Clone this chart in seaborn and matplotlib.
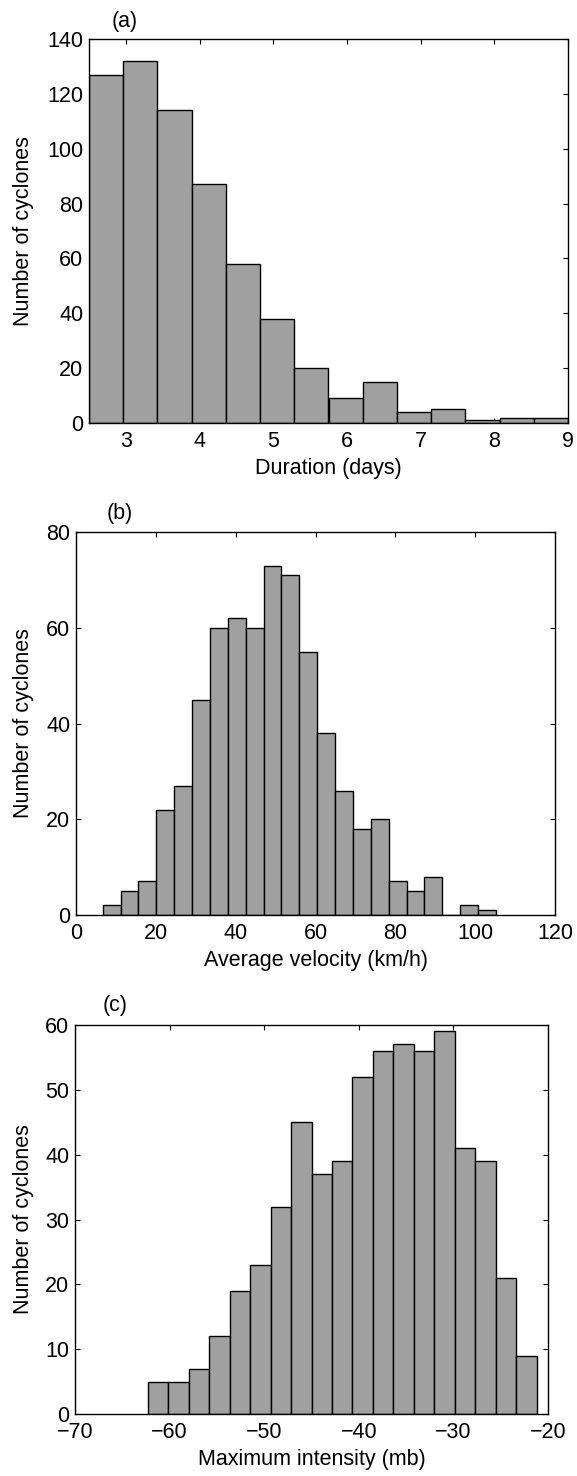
import numpy as np
import pandas as pd
import matplotlib
matplotlib.use("Agg")
import matplotlib.pyplot as plt
import seaborn as sns

sns.set_style("ticks")
plt.rcParams['font.family'] = ['Liberation Sans', 'DejaVu Sans']
plt.rcParams.update({'text.color': 'black', 'axes.labelcolor': 'black',
                     'xtick.color': 'black', 'ytick.color': 'black',
                     'axes.edgecolor': 'black'})
FS = 15.5

# (a) duration, 14 bins between 2.5 and 9 days
dur_edges = np.linspace(2.5, 9.0, 15)
dur_counts = [127, 132, 114, 87, 58, 38, 20, 9, 15, 4, 5, 1, 2, 2]

# (b) average velocity, 22 bins
vel_edges = np.linspace(6.7, 105.2, 23)
vel_counts = [2, 5, 7, 22, 27, 45, 60, 62, 60, 73, 71, 55, 38, 26, 18, 20, 7, 5, 8, 0, 2, 1]

# (c) maximum intensity, 19 bins
int_edges = np.linspace(-62.3, -21.2, 20)
int_counts = [5, 5, 7, 12, 19, 23, 32, 45, 37, 39, 52, 56, 57, 56, 59, 41, 39, 21, 9]

# box = axes corners in pixels (left, top, right, bottom), tag = centre of panel letter
panels = [
    dict(edges=dur_edges, counts=dur_counts, tag='(a)', xlabel='Duration (days)',
         xlim=(2.5, 9), xticks=range(3, 10), ylim=(0, 140), yticks=range(0, 141, 20),
         box=(89, 39, 568, 423), tagpos=(125, 22)),
    dict(edges=vel_edges, counts=vel_counts, tag='(b)', xlabel='Average velocity (km/h)',
         xlim=(0, 120), xticks=range(0, 121, 20), ylim=(0, 80), yticks=range(0, 81, 20),
         box=(76, 532, 555, 915), tagpos=(120, 513)),
    dict(edges=int_edges, counts=int_counts, tag='(c)', xlabel='Maximum intensity (mb)',
         xlim=(-70, -20), xticks=range(-70, -19, 10), ylim=(0, 60), yticks=range(0, 61, 10),
         box=(75, 1025, 548, 1414), tagpos=(115, 1005)),
]

W, H = 577, 1476
fig = plt.figure(figsize=(W / 100, H / 100), dpi=100)

for p in panels:
    x0, y0, x1, y1 = p['box']
    ax = fig.add_axes([x0 / W, 1 - y1 / H, (x1 - x0) / W, (y1 - y0) / H])
    edges = np.asarray(p['edges'])
    centers = (edges[:-1] + edges[1:]) / 2
    df = pd.DataFrame({'x': centers, 'n': p['counts']})
    sns.histplot(data=df, x='x', weights='n', bins=list(edges), ax=ax,
                 color='#a0a0a0', alpha=1, edgecolor='black', linewidth=1)
    ax.set_xlim(*p['xlim'])
    ax.set_ylim(*p['ylim'])
    ax.set_xticks(list(p['xticks']))
    ax.set_yticks(list(p['yticks']))
    ax.tick_params(direction='in', top=True, right=True, length=3.6, width=0.8,
                   labelsize=FS, pad=4)
    ax.tick_params(axis='x', pad=6)
    for s in ax.spines.values():
        s.set_linewidth(1)
        s.set_visible(True)
    ax.set_xlabel(p['xlabel'], fontsize=FS, labelpad=4)
    ax.set_ylabel('Number of cyclones', fontsize=FS)
    ax.yaxis.set_label_coords((34 - x0) / (x1 - x0), 0.5)
    tx, ty = p['tagpos']
    fig.text(tx / W, 1 - ty / H, p['tag'], fontsize=FS, ha='center', va='center')

fig.savefig('out.png', dpi=100)
